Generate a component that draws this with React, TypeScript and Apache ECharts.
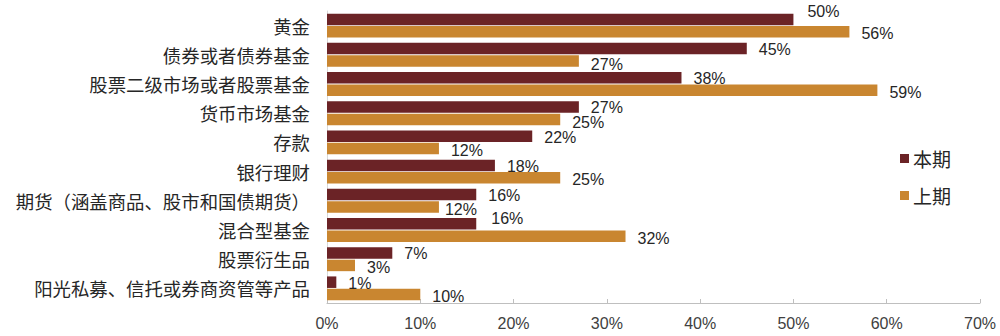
import React, { useEffect, useRef } from "react";
import * as echarts from "echarts";

const categories = [
  "黄金",
  "债券或者债券基金",
  "股票二级市场或者股票基金",
  "货币市场基金",
  "存款",
  "银行理财",
  "期货（涵盖商品、股市和国债期货）",
  "混合型基金",
  "股票衍生品",
  "阳光私募、信托或券商资管等产品",
];
const currentValues = [50, 45, 38, 27, 22, 18, 16, 16, 7, 1];
const previousValues = [56, 27, 59, 25, 12, 25, 12, 32, 3, 10];
const seriesNames = ["本期", "上期"];
const xTicks = [0, 10, 20, 30, 40, 50, 60, 70];

const currentLabelOffsets: Record<number, number[]> = { 0: [2, -8], 7: [3, -5] };
const previousLabelOffsets: Record<number, number[]> = { 1: [0, 3], 3: [0, 3], 6: [-6, 2] };

export default function App() {
  const ref = useRef<HTMLDivElement>(null);
  useEffect(() => {
    document.body.style.margin = "0";
    if (!ref.current) return;
    const chart = echarts.init(ref.current, undefined, { renderer: "svg" });
    const labelBase = {
      show: true,
      position: "right",
      distance: 12,
      offset: [0, 1],
      formatter: "{c}%",
      fontFamily: "Liberation Sans, Arial, sans-serif",
      fontSize: 16,
      color: "#262626",
    };
    const mk = (vals: number[], offs: Record<number, number[]>) =>
      vals.map((v, i) =>
        offs[i] ? { value: v, label: { offset: offs[i] } } : { value: v }
      );
    chart.setOption({
      animation: false,
      grid: { left: 327, right: 20, top: 11, bottom: 33, containLabel: false },
      legend: {
        orient: "vertical",
        left: 895,
        top: 144,
        itemWidth: 9,
        itemHeight: 9,
        itemGap: 18,
        icon: "rect",
        data: seriesNames,
        textStyle: {
          fontSize: 19,
          fontFamily: "Noto Sans CJK SC, sans-serif",
          color: "#262626",
          padding: [0, 0, 0, -1],
        },
      },
      xAxis: {
        type: "value",
        min: xTicks[0],
        max: xTicks[xTicks.length - 1],
        interval: 10,
        axisLine: { show: true, lineStyle: { color: "#bfbfbf", width: 1 } },
        axisTick: { show: true, inside: true, length: 4, lineStyle: { color: "#bfbfbf" } },
        splitLine: { show: false },
        axisLabel: {
          formatter: "{value}%",
          fontFamily: "Liberation Sans, Arial, sans-serif",
          fontSize: 16,
          color: "#404040",
          margin: 12,
        },
      },
      yAxis: {
        type: "category",
        inverse: true,
        data: categories,
        axisLine: { show: true, lineStyle: { color: "#d9d9d9", width: 1 } },
        axisTick: { show: false },
        axisLabel: {
          fontFamily: "Noto Sans CJK SC, sans-serif",
          fontSize: 18.4,
          color: "#262626",
          margin: 17,
        },
      },
      series: [
        {
          name: seriesNames[0],
          type: "bar",
          data: mk(currentValues, currentLabelOffsets),
          barGap: "8%",
          barCategoryGap: "18%",
          itemStyle: { color: "#6B2326" },
          label: labelBase,
        },
        {
          name: seriesNames[1],
          type: "bar",
          data: mk(previousValues, previousLabelOffsets),
          barGap: "8%",
          barCategoryGap: "18%",
          itemStyle: { color: "#C98630" },
          label: { ...labelBase, offset: [0, 2] },
        },
      ],
    });
    return () => chart.dispose();
  }, []);
  return <div ref={ref} style={{ width: 1000, height: 336 }} />;
}
